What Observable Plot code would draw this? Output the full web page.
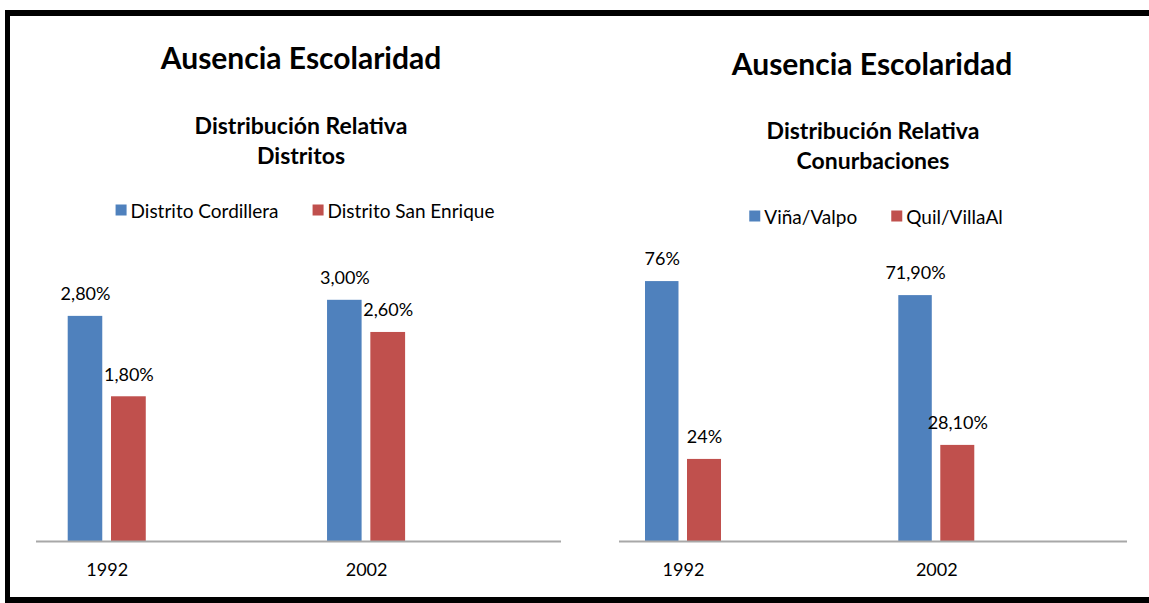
<!DOCTYPE html>
<html><head><meta charset="utf-8">
<script src="https://cdn.jsdelivr.net/npm/d3@7"></script>
<script src="https://cdn.jsdelivr.net/npm/@observablehq/plot@0.6"></script>
<style>
body{margin:0;background:#fff;font-family:Lato,"Open Sans",sans-serif;}
#page{position:relative;width:1149px;height:603px;overflow:hidden;background:#fff;}
.frame-top{position:absolute;left:5px;top:10px;right:0;height:6px;background:#000}
.frame-left{position:absolute;left:5px;top:10px;width:5px;bottom:0;background:#000}
.frame-bottom{position:absolute;left:5px;bottom:0;right:0;height:6px;background:#000}
.t{position:absolute;transform:translate(-50%,-50%);white-space:nowrap;color:#000;line-height:1}
.title{font-weight:700;font-size:30px}
.sub{font-weight:700;font-size:23px}
.legend{position:absolute;display:flex;align-items:center;font-size:19px;white-space:nowrap;transform:translate(-50%,-50%);line-height:1}
.sw{display:inline-block;width:11px;height:11px;margin-right:4px}
.item{display:flex;align-items:center;margin-right:34px}
.item:last-child{margin-right:0}
.plot{position:absolute;top:240px}
</style>
</head><body>
<div id="page">
  <div class="frame-top"></div><div class="frame-left"></div><div class="frame-bottom"></div>
</div>
<script>
// ---- data ----
const years = ["1992", "2002"];
const titleText = "Ausencia Escolaridad";
const subLeft = ["Distribución Relativa", "Distritos"];
const subRight = ["Distribución Relativa", "Conurbaciones"];
const seriesLeft = ["Distrito Cordillera", "Distrito San Enrique"];
const cordillera = [2.8, 3.0];
const sanEnrique = [1.8, 2.6];
const cordilleraLabels = ["2,80%", "3,00%"];
const sanEnriqueLabels = ["1,80%", "2,60%"];
const seriesRight = ["Viña/Valpo", "Quil/VillaAl"];
const vinaValpo = [76, 71.9];
const quilVillaAl = [24, 28.1];
const vinaLabels = ["76%", "71,90%"];
const quilLabels = ["24%", "28,10%"];
const colors = ["#4F81BD", "#C0504D"];

const page = document.getElementById("page");
function addText(txt, cls, x, y) {
  const d = document.createElement("div");
  d.className = "t " + cls; d.textContent = txt;
  d.style.left = x + "px"; d.style.top = y + "px";
  page.appendChild(d);
}
function addLegend(names, x, y) {
  const l = document.createElement("div");
  l.className = "legend"; l.style.left = x + "px"; l.style.top = y + "px";
  names.forEach((n, i) => {
    const it = document.createElement("span"); it.className = "item";
    const sw = document.createElement("span"); sw.className = "sw"; sw.style.background = colors[i];
    it.appendChild(sw); it.appendChild(document.createTextNode(n));
    l.appendChild(it);
  });
  page.appendChild(l);
}

function panel(cfg) {
  const rows = cfg.values.map((vals, i) => years.map((yr, j) => ({year: yr, value: vals[j], label: cfg.labels[i][j]})));
  const marks = [];
  rows.forEach((r, i) => {
    marks.push(Plot.barY(r, {x: "year", y: "value", fill: colors[i], insetLeft: cfg.insets[i][0], insetRight: cfg.insets[i][1]}));
    marks.push(Plot.text(r, {x: "year", y: "value", text: "label", dx: cfg.dx[i], dy: -22, fontSize: 18, fill: "#000"}));
  });
  marks.push(Plot.ruleY([0], {stroke: "#A8A8A8", strokeWidth: 2}));
  marks.push(Plot.axisX({tickSize: 0, tickPadding: 22, fontSize: 18, label: null}));
  const svg = Plot.plot({
    width: cfg.width, height: cfg.height,
    marginLeft: cfg.ml, marginRight: cfg.mr, marginTop: cfg.mt, marginBottom: cfg.mb,
    x: {domain: years, paddingInner: cfg.pi, paddingOuter: cfg.po, align: cfg.align, round: false, axis: null},
    y: {domain: cfg.ydomain, axis: null},
    style: {fontFamily: "Lato, 'Open Sans', sans-serif", fontSize: "18px", color: "#000", background: "transparent", overflow: "visible"},
    marks
  });
  svg.classList.add("plot");
  svg.style.left = cfg.left + "px";
  page.appendChild(svg);
}

// left panel
addText(titleText, "title", 301, 57);
addText(subLeft[0], "sub", 301, 125);
addText(subLeft[1], "sub", 301, 155);
addLegend(seriesLeft, 305, 210);
panel({
  left: 0, width: 575, height: 360, ml: 36, mr: 14, mt: 19.6, mb: 59,
  pi: 0.699, po: 0.3617, align: 0.169, ydomain: [0, 3.5],
  values: [cordillera, sanEnrique], labels: [cordilleraLabels, sanEnriqueLabels],
  insets: [[0, 43.5], [43.3, 0]], dx: [-21.7, 21.65]
});

// right panel
addText(titleText, "title", 872, 63);
addText(subRight[0], "sub", 873, 130);
addText(subRight[1], "sub", 873, 160);
addLegend(seriesRight, 876, 216);
panel({
  left: 575, width: 574, height: 360, ml: 44, mr: 22, mt: 27.4, mb: 59,
  pi: 0.7, po: 0.3528, align: 0.1455, ydomain: [0, 80],
  values: [vinaValpo, quilVillaAl], labels: [vinaLabels, quilLabels],
  insets: [[0, 42.5], [42, 0]], dx: [-21.25, 21]
});
</script>
</body></html>
